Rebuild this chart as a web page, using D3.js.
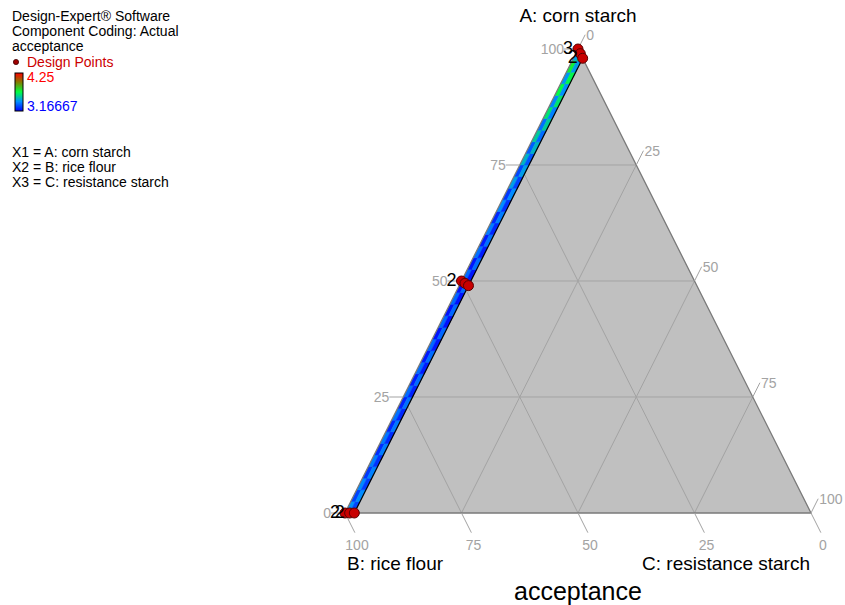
<!DOCTYPE html>
<html>
<head>
<meta charset="utf-8">
<script src="https://cdn.jsdelivr.net/npm/d3@7"></script>
<style>
  body { margin: 0; background: #fff; }
  svg { display: block; font-family: "Liberation Sans", Arial, sans-serif; }
</style>
</head>
<body>
<svg id="chart" width="845" height="605"></svg>
<script>
// ---- data ----
const componentNames = ["A: corn starch", "B: rice flour", "C: resistance starch"];
const responseName = "acceptance";
const legendLines = ["Design-Expert® Software", "Component Coding: Actual", "acceptance"];
const factorLines = ["X1 = A: corn starch", "X2 = B: rice flour", "X3 = C: resistance starch"];
const responseRange = [3.16667, 4.25];
const colorStopValues = [3.16667, 3.4375, 3.70833, 3.97917, 4.25];
const gridLevels = [25, 50, 75];
const tickLevels = [0, 25, 50, 75, 100];

// Predicted acceptance on the feasible strip, rows of 2.5% A from A = 0 upward,
// first column C = 0..1 %, second column C = 1..2 %
const stripStep = 2.5;
const stripCols = [0, 1, 2];
const accNear = [3.44, 3.29, 3.42, 3.27, 3.40, 3.25, 3.39, 3.24, 3.38, 3.23,
                 3.37, 3.22, 3.37, 3.21, 3.36, 3.20, 3.36, 3.20, 3.36, 3.20,
                 3.37, 3.21, 3.38, 3.22, 3.40, 3.24, 3.43, 3.27, 3.47, 3.30,
                 3.52, 3.34, 3.58, 3.38, 3.64, 3.42, 3.70, 3.45, 3.74, 3.48];
const accFar  = [3.30, 3.43, 3.28, 3.41, 3.26, 3.40, 3.25, 3.39, 3.24, 3.38,
                 3.23, 3.37, 3.22, 3.37, 3.21, 3.36, 3.20, 3.36, 3.20, 3.36,
                 3.21, 3.37, 3.22, 3.38, 3.24, 3.40, 3.26, 3.43, 3.29, 3.47,
                 3.33, 3.52, 3.37, 3.58, 3.41, 3.64, 3.44, 3.69, 3.47, 3.73];
const stripCMax = 2;
const stripAMaxAtCMax = 98;

// Design points (percent) and replicate counts
const ptA = [100, 99, 98, 50, 49.5, 49, 0, 0, 0];
const ptB = [0, 0, 0, 50, 49.5, 49, 100, 99, 98];
const ptC = [0, 1, 2, 0, 1, 2, 0, 1, 2];
const ptLabel = ["3", "", "2", "2", "", "", "2", "2", ""];

// ---- drawing ----
const svg = d3.select("#chart");

// ternary projection: x follows C + A/2, y follows A
const xScale = d3.scaleLinear().domain([0, 100]).range([345, 811]);
const yScale = d3.scaleLinear().domain([0, 100]).range([513, 49]);
const proj = (a, c) => [xScale(c + a / 2), yScale(a)];

const color = d3.scaleLinear()
  .domain(colorStopValues)
  .range(["#0000ff", "#0090ff", "#00ff40", "#808000", "#ff0000"])
  .clamp(true);

const triPts = [proj(100, 0), proj(0, 0), proj(0, 100)];
const line = d3.line();

const defs = svg.append("defs");
defs.append("clipPath").attr("id", "triClip")
  .append("path").attr("d", line(triPts) + "Z");

// triangle fill
svg.append("path").attr("d", line(triPts) + "Z").attr("fill", "#c0c0c0");

// grid lines
const grid = svg.append("g").attr("stroke", "#a3a3a3").attr("stroke-width", 1).attr("fill", "none");
gridLevels.forEach(k => {
  grid.append("path").attr("d", line([proj(k, 0), proj(k, 100 - k)]));        // constant A
  grid.append("path").attr("d", line([proj(100 - k, 0), proj(0, 100 - k)]));  // constant B
  grid.append("path").attr("d", line([proj(100 - k, k), proj(0, k)]));        // constant C
});

// response strip cells
const strip = svg.append("g").attr("clip-path", "url(#triClip)");
const cells = [];
accNear.forEach((v, i) => cells.push({ i, j: 0, v }));
accFar.forEach((v, i) => cells.push({ i, j: 1, v }));
strip.selectAll("path").data(cells).join("path")
  .attr("d", d => {
    const a0 = d.i * stripStep, a1 = a0 + stripStep;
    const c0 = stripCols[d.j], c1 = stripCols[d.j + 1];
    return line([proj(a0, c0), proj(a1, c0), proj(a1, c1), proj(a0, c1)]) + "Z";
  })
  .attr("fill", d => color(d.v))
  .attr("stroke", d => color(d.v))
  .attr("stroke-width", 0.5);

// constraint boundary C = 2
svg.append("path")
  .attr("d", line([proj(0, stripCMax), proj(stripAMaxAtCMax, stripCMax)]))
  .attr("stroke", "#000").attr("stroke-width", 1.2).attr("fill", "none");

// triangle outline
svg.append("path").attr("d", line(triPts) + "Z")
  .attr("fill", "none").attr("stroke", "#7a7a7a").attr("stroke-width", 1.3);

// ticks and tick labels
const tickG = svg.append("g");
const tickColor = "#a3a3a3";
const ux = 0.449, uy = 0.894;
tickLevels.forEach(k => {
  // A axis, left edge
  const [ax, ay] = proj(k, 0);
  tickG.append("line").attr("x1", ax).attr("y1", ay).attr("x2", ax - 14).attr("y2", ay)
    .attr("stroke", tickColor);
  tickG.append("text").attr("x", ax - 14).attr("y", ay + 5)
    .attr("text-anchor", "end").attr("fill", tickColor).attr("font-size", 14).text(k);
  // B axis, bottom edge
  const [bx, by] = proj(0, 100 - k);
  tickG.append("line").attr("x1", bx).attr("y1", by).attr("x2", bx + ux * 22).attr("y2", by + uy * 22)
    .attr("stroke", tickColor);
  tickG.append("text").attr("x", bx + 12).attr("y", by + 37)
    .attr("text-anchor", "middle").attr("fill", tickColor).attr("font-size", 14).text(k);
  // C axis, right edge
  const [cx, cy] = proj(100 - k, k);
  tickG.append("line").attr("x1", cx).attr("y1", cy).attr("x2", cx + ux * 16).attr("y2", cy - uy * 16)
    .attr("stroke", tickColor);
  tickG.append("text").attr("x", cx + ux * 16 + 1).attr("y", cy - uy * 16 + 5)
    .attr("text-anchor", "start").attr("fill", tickColor).attr("font-size", 14).text(k);
});

// component labels
svg.append("text").attr("x", xScale(50)).attr("y", 22).attr("text-anchor", "middle")
  .attr("font-size", 19).text(componentNames[0]);
svg.append("text").attr("x", xScale(0) + 2).attr("y", 570).attr("text-anchor", "start")
  .attr("font-size", 19).text(componentNames[1]);
svg.append("text").attr("x", xScale(100) - 1).attr("y", 570).attr("text-anchor", "end")
  .attr("font-size", 19).text(componentNames[2]);
svg.append("text").attr("x", xScale(50)).attr("y", 600).attr("text-anchor", "middle")
  .attr("font-size", 25).text(responseName);

// design points
const pts = ptA.map((a, i) => ({ a, b: ptB[i], c: ptC[i], label: ptLabel[i] }));
const ptG = svg.append("g");
ptG.selectAll("circle").data(pts).join("circle")
  .attr("cx", d => proj(d.a, d.c)[0])
  .attr("cy", d => proj(d.a, d.c)[1])
  .attr("r", 5)
  .attr("fill", "#c80000")
  .attr("stroke", "#5a0000")
  .attr("stroke-width", 1);
ptG.selectAll("text").data(pts.filter(d => d.label)).join("text")
  .attr("x", d => proj(d.a, d.c)[0] - 5)
  .attr("y", d => proj(d.a, d.c)[1] + 5)
  .attr("text-anchor", "end")
  .attr("font-size", 18)
  .attr("fill", "#000")
  .text(d => d.label);

// legend block
const leg = svg.append("g").attr("font-size", 14);
legendLines.forEach((t, i) => {
  leg.append("text").attr("x", 12).attr("y", 21 + i * 15).attr("fill", "#000").text(t);
});
leg.append("circle").attr("cx", 16).attr("cy", 62).attr("r", 2.6)
  .attr("fill", "#a00000").attr("stroke", "#400000").attr("stroke-width", 0.8);
leg.append("text").attr("x", 27).attr("y", 67).attr("fill", "#cc0000").text("Design Points");

const grad = defs.append("linearGradient").attr("id", "barGrad")
  .attr("x1", 0).attr("y1", 1).attr("x2", 0).attr("y2", 0);
d3.range(0, 1.0001, 0.05).forEach(t => {
  const v = responseRange[0] + t * (responseRange[1] - responseRange[0]);
  grad.append("stop").attr("offset", t).attr("stop-color", color(v));
});
leg.append("rect").attr("x", 15).attr("y", 73).attr("width", 8).attr("height", 38)
  .attr("fill", "url(#barGrad)").attr("stroke", "#000").attr("stroke-width", 1);
leg.append("text").attr("x", 27).attr("y", 82).attr("fill", "#ff0000").text(String(responseRange[1]));
leg.append("text").attr("x", 27).attr("y", 111).attr("fill", "#0000ff").text(String(responseRange[0]));

factorLines.forEach((t, i) => {
  leg.append("text").attr("x", 12).attr("y", 157 + i * 15).attr("fill", "#000").text(t);
});
</script>
</body>
</html>
